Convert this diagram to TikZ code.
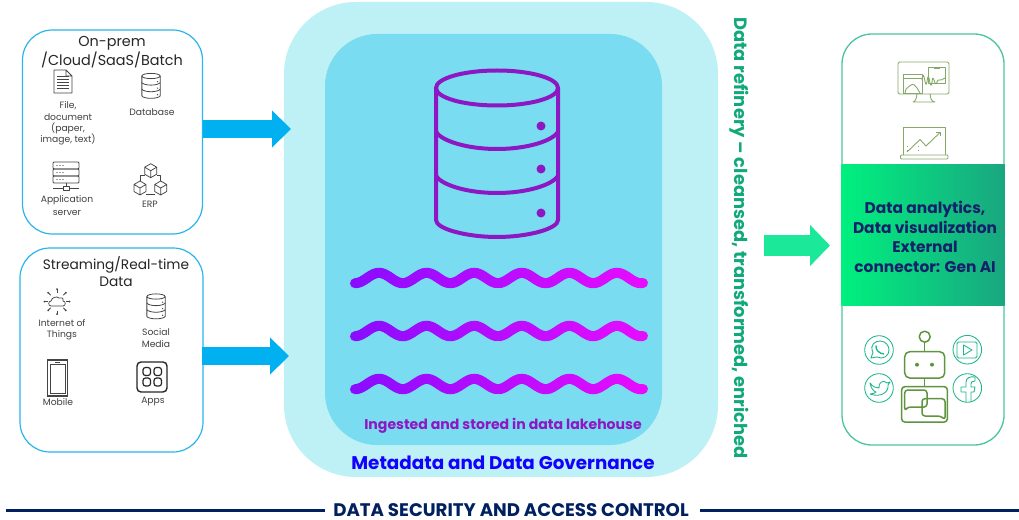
\documentclass[tikz,border=0pt]{standalone}
\usepackage{fontspec}
\setmainfont{Poppins}
\usetikzlibrary{arrows.meta,shapes.arrows}
\def\px{0.75pt}
\definecolor{edgeblue}{HTML}{2BB5EC}
\definecolor{flowblue}{HTML}{00B0F0}
\definecolor{lakeouter}{HTML}{BEF1F5}
\definecolor{lakeinner}{HTML}{79DCF0}
\definecolor{purpleicon}{HTML}{8E17C4}
\definecolor{wavea}{HTML}{8A0CFF}
\definecolor{waveb}{HTML}{E60CFF}
\definecolor{panelgreen}{HTML}{1DB58A}
\definecolor{flowgreen}{HTML}{1CE89A}
\definecolor{bandl}{HTML}{00F07F}
\definecolor{bandr}{HTML}{1AA680}
\definecolor{navy}{HTML}{002060}
\definecolor{bandtext}{HTML}{14206A}
\definecolor{govblue}{HTML}{1400FF}
\definecolor{refgreen}{HTML}{12A97A}
\definecolor{txtgrey}{HTML}{404040}
\definecolor{iconline}{HTML}{454545}
\definecolor{robot}{HTML}{5F9440}
\definecolor{monitor}{HTML}{86A868}
\tikzset{
  rbox/.style={draw=edgeblue,line width=1.2*\px,rounded corners=30*\px,inner sep=0,fill=white},
  hd/.style={font=\fontsize{10.8pt}{12pt}\selectfont,text=black!85,inner sep=0},
  hdb/.style={font=\fontsize{10.3pt}{12pt}\selectfont,text=black!85,inner sep=0},
  lb/.style={font=\fontsize{6.9pt}{8pt}\selectfont,text=txtgrey,inner sep=0},
  blockarrow/.style={line width=18*\px},
  ic/.style={draw=iconline,line width=0.75*\px,line join=round},
  mon/.style={draw=monitor,line width=0.9*\px,line join=round},
  soc/.style={draw=panelgreen,line width=0.85*\px,line join=round},
  rb/.style={draw=robot,line width=1.5*\px,line join=round},
}
% database icon, origin at centre of top ellipse, big size
\newcommand{\dbicon}[5]{%
\begin{scope}[shift={(#1,#2)},x=#3*\px,y=-#3*\px,draw=#4,line width=#5*\px]
 \draw (0,0) ellipse (61 and 17.5);
 \draw (-61,0) -- (-61,132) .. controls (-61,141) and (-30,149) .. (0,149) .. controls (30,149) and (61,141) .. (61,132) -- (61,0);
 \foreach \yy in {44,88}{\draw (-61,\yy) .. controls (-55,\yy+9) and (-30,\yy+17) .. (0,\yy+17) .. controls (30,\yy+17) and (55,\yy+9) .. (61,\yy);}
 \foreach \yy in {38,81,125}{\fill[#4] (44,\yy) circle (4.5);}
\end{scope}}
\newcommand{\waveline}[1]{%
 \foreach \i in {0,...,143}{%
  \pgfmathsetmacro{\xa}{355+2*\i}\pgfmathsetmacro{\xb}{\xa+2}%
  \pgfmathsetmacro{\ya}{#1-5.2*cos((\xa-379)/47.6*360)}%
  \pgfmathsetmacro{\yb}{#1-5.2*cos((\xb-379)/47.6*360)}%
  \pgfmathtruncatemacro{\pc}{100*\i/143}%
  \draw[draw=waveb!\pc!wavea,line width=10*\px,line cap=round] (\xa,\ya) -- (\xb,\yb);}}
\begin{document}
\begin{tikzpicture}[x=\px,y=-\px]
\useasboundingbox (0,0) rectangle (1019,520);
\fill[white] (0,0) rectangle (1019,520);

% central lake
\node[fill=lakeouter,rounded corners=72*\px,inner sep=0,minimum width=434*\px,minimum height=475*\px] (lake) at (501,239.5) {};
\node[fill=lakeinner,rounded corners=52*\px,inner sep=0,minimum width=337*\px,minimum height=411*\px] (inner) at (493.5,239.5) {};
\dbicon{497}{88}{1}{purpleicon}{4}
\waveline{278}
\waveline{331}
\waveline{384}
\node[inner sep=0,text=purpleicon,font=\bfseries\fontsize{10.55pt}{12pt}\selectfont] (ingest) at (503,426) {Ingested and stored in data lakehouse};
\node[inner sep=0,text=govblue,font=\bfseries\fontsize{13.75pt}{15pt}\selectfont] (gov) at (503,463) {Metadata and Data Governance};

% left boxes
\node[rbox,minimum width=180*\px,minimum height=204*\px] (box1) at (112.5,132) {};
\node[rbox,minimum width=183*\px,minimum height=204*\px] (box2) at (111.5,350) {};
\coordinate (tip1) at (291,129);
\coordinate (tip2) at (289,356);
\draw[flowblue,blockarrow,-{Triangle[length=19*\px,width=36*\px]}] (box1.east |- tip1) -- (tip1);
\draw[flowblue,blockarrow,-{Triangle[length=19*\px,width=36*\px]}] ([xshift=-2*\px]box2.east |- tip2) -- (tip2);

\node[hd] (h1a) at (112,43.5) {On-prem};
\node[hd] (h1b) at (112,59.5) {/Cloud/SaaS/Batch};
\node[lb] (f1) at (68,105.5) {File,};
\node[lb] (f2) at (68,117) {document};
\node[lb] (f3) at (68,128.5) {(paper,};
\node[lb] (f4) at (68,139.5) {image, text)};
\node[lb] (dbl) at (152,112) {Database};
\node[lb] (ap1) at (67,200.5) {Application};
\node[lb] (ap2) at (67,212.5) {server};
\node[lb] (erp) at (150,204) {ERP};
\node[hdb] (h2a) at (116,264.5) {Streaming/Real-time};
\node[hdb] (h2b) at (116,281.5) {Data};
\node[lb] (io1) at (62,323.5) {Internet of};
\node[lb] (io2) at (62,335.5) {Things};
\node[lb] (so1) at (156,332) {Social};
\node[lb] (so2) at (156,344) {Media};
\node[lb] (mob) at (58,402) {Mobile};
\node[lb] (app) at (153,402) {Apps};

% file icon
\draw[ic] (54,70) -- (66,70) -- (72,76) -- (72,93) -- (54,93) -- cycle (66,70) -- (66,76) -- (72,76);
\foreach \yy in {76,79,82,85,88}{\draw[ic,line width=0.6*\px] (57,\yy) -- (69,\yy);}
% small databases
\dbicon{151}{76}{0.15}{iconline}{0.8}
\dbicon{156}{296.5}{0.15}{iconline}{0.8}
% server icon
\foreach \yy in {162,169,176}{
  \draw[ic,rounded corners=1*\px] (53,\yy) rectangle (79,\yy+7);
  \foreach \xx in {57,60,63}{\fill[iconline] (\xx,\yy+3.5) circle (0.6);}}
\draw[ic] (66,183) -- (66,186) (53,188) -- (63,188) (69,188) -- (79,188);
\draw[ic] (63,186) rectangle (69,190);
% ERP icon
\foreach \cx/\cy in {150.7/170.7,140/188,160.7/188}{
  \draw[ic] (\cx,\cy-7) -- (\cx+6,\cy-3.5) -- (\cx+6,\cy+3.5) -- (\cx,\cy+7) -- (\cx-6,\cy+3.5) -- (\cx-6,\cy-3.5) -- cycle
     (\cx-6,\cy-3.5) -- (\cx,\cy) -- (\cx+6,\cy-3.5) (\cx,\cy) -- (\cx,\cy+7);}
\draw[ic] (144.7,175) -- (140,175) -- (140,181) (156.7,175) -- (160.7,175) -- (160.7,181) (146,194) -- (155,194);
% IoT icon
\draw[ic] (51,306) .. controls (48,306) and (48,301) .. (51,301) .. controls (52,297) and (57,296) .. (59,298) .. controls (61,297) and (64,298) .. (63,301) .. controls (66,301) and (66,306) .. (63,306) -- cycle;
\foreach \ang in {0,45,...,315}{
  \draw[ic] (57,301.5) ++(\ang:9) -- ++(\ang:3.5);
  \fill[iconline] (57,301.5) ++(\ang:12.5) circle (1);}
% mobile icon
\draw[draw=iconline,line width=1.3*\px,fill=white] (47.5,360) rectangle (67.5,396);
\draw[draw=iconline,line width=0.7*\px] (50,364) rectangle (65,393);
\draw[iconline,line width=0.9*\px] (55,362) -- (60,362);
% apps icon
\draw[draw=black!85,line width=1.4*\px,rounded corners=4*\px] (137,362) rectangle (167,392);
\foreach \xx/\yy in {143/367.5,154/367.5,143/378,154/378}{
  \draw[draw=black!85,line width=1.2*\px,rounded corners=2.5*\px] (\xx,\yy) rectangle (\xx+7.5,\yy+8);}

% vertical text
\node[rotate=-90,inner sep=0,text=refgreen,font=\bfseries\fontsize{13.4pt}{15pt}\selectfont] (refinery) at (739,238) {Data refinery – cleansed, transformed, enriched};

% right panel
\node[draw=panelgreen!80,line width=1.3*\px,rounded corners=30*\px,inner sep=0,minimum width=162*\px,minimum height=411*\px] (panel) at (923,239.5) {};
\node[inner sep=0,left color=bandl,right color=bandr,minimum width=163*\px,minimum height=140*\px] (band) at (923,235) {};
\node[inner sep=0,text=bandtext,align=center,font=\bfseries\fontsize{11.6pt}{14.7pt}\selectfont] (bandtxt) at (925,237) {Data analytics,\\Data visualization\\External\\connector: Gen AI};
\coordinate (tail3) at (764,245.5);
\coordinate (tip3) at (830,245.5);
\draw[flowgreen,line width=21*\px,-{Triangle[length=20*\px,width=40*\px]}] (tail3) -- (tip3);

% monitor icon
\draw[mon,rounded corners=1.5*\px] (898,62) rectangle (949,94);
\draw[mon] (917,94) -- (916,99) .. controls (915,101) and (914,102) .. (913,102) -- (935,102) .. controls (933,102) and (932,101) .. (931,99) -- (930,94);
\draw[mon] (903,74) rectangle (922,93) (903,78) -- (922,78);
\draw[mon] (905,93) .. controls (906,86) and (909,88) .. (911,85) .. controls (913,83) and (916,86) .. (917,88) -- (920,93);
\draw[mon] (928,67) rectangle (945,83) (934,68) -- (940,68);
\draw[mon] (922,80) .. controls (924,65) and (925,92) .. (927,82) .. controls (929,65) and (930,95) .. (932,82) .. controls (933,70) and (935,90) .. (937,82) .. controls (938,78) and (940,82) .. (945,78);
% laptop icon
\draw[mon] (903,155) -- (903,127) -- (945,127) -- (945,155);
\draw[mon,rounded corners=1*\px] (900.5,155) rectangle (948,159);
\draw[mon] (907,152) -- (920,139.5) -- (926,146) -- (940,132.5);
\draw[mon] (936,132.5) -- (940,132.5) -- (940,136.5);
\draw[mon,dotted] (907.5,146) -- (907.5,152) (918,146) -- (918,152);

% social circles
\foreach \cx/\cy in {879/350,879/388,967.3/349.7,967.3/388}{\draw[soc] (\cx,\cy) circle (14.3);}
% whatsapp
\draw[soc] (871,358) -- (873,352.5) .. controls (869,344) and (876,341) .. (880,341) .. controls (886,341) and (889,346) .. (889,350) .. controls (889,356) and (883,360) .. (877,357) -- cycle;
\draw[soc,line width=1.3*\px] (876,345.5) .. controls (875,350) and (880,354) .. (884,354);
% twitter
\draw[soc] (870,383) .. controls (873,387) and (876,388) .. (879,388) .. controls (878,383) and (883,379) .. (887,383) -- (890,382) -- (888,385) .. controls (889,392) and (881,398) .. (870,394) .. controls (873,394) and (875,393) .. (876,392) .. controls (873,391) and (871,388) .. (870,383) -- cycle;
% play
\draw[soc,rounded corners=1.5*\px] (957,342) rectangle (977,358);
\draw[soc] (963.5,345) -- (972,350) -- (963.5,355) -- cycle;
% facebook
\draw[soc] (966,402) -- (966,392) -- (961,392) -- (961,387) -- (966,387) -- (966,382) .. controls (966,378) and (970,376) .. (975,377) -- (975,381) .. controls (972,381) and (971,382) .. (971,384) -- (971,387) -- (975,387) -- (974,392) -- (971,392) -- (971,402);
% robot
\draw[rb] (924.7,336.7) circle (5.5);
\draw[rb] (924.7,342.2) -- (924.7,351.7);
\draw[rb,rounded corners=5*\px] (904.7,351.7) rectangle (944.7,378);
\fill[robot] (917,364.7) circle (2) (932,364.7) circle (2);
\draw[rb] (924.7,378) -- (924.7,386.7);
\draw[rb,rounded corners=3*\px] (901.7,386.7) rectangle (947.3,422);
\draw[rb,rounded corners=3*\px] (904.7,411) -- (904.7,390) -- (927,390) -- (927,407) -- (907.5,407) -- cycle;
\draw[rb,rounded corners=3*\px] (945,420) -- (945,398.7) -- (922,398.7) -- (922,416) -- (941,416) -- cycle;

% bottom rule
\node[inner sep=0,text=navy,font=\bfseries\fontsize{13.65pt}{15pt}\selectfont] (sec) at (511,510) {DATA SECURITY AND ACCESS CONTROL};
\coordinate (ruleL) at (6,510);
\coordinate (ruleR) at (1019,510);
\draw[navy,line width=3*\px] (ruleL) -- (325,510);
\draw[navy,line width=3*\px] (700,510) -- (ruleR);
\end{tikzpicture}
\end{document}
